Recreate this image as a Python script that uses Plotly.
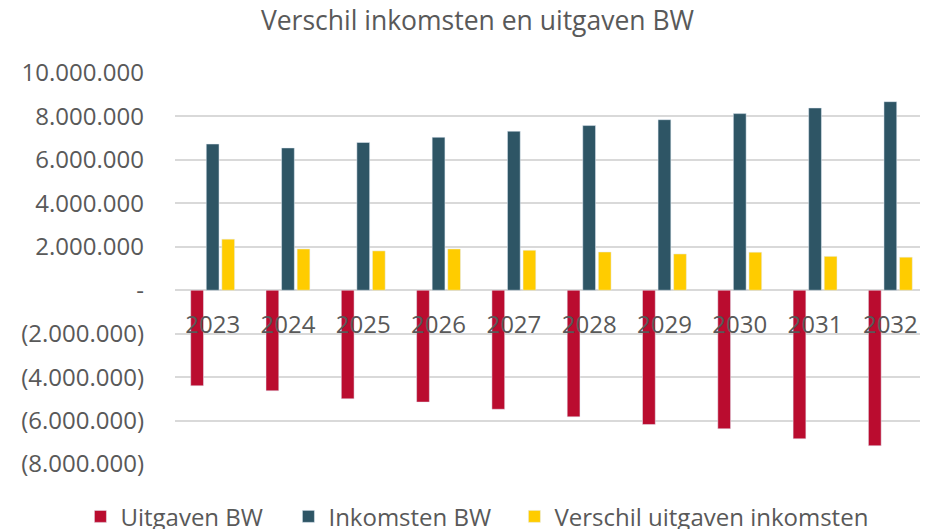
import plotly.graph_objects as go

years = ["2023", "2024", "2025", "2026", "2027", "2028", "2029", "2030", "2031", "2032"]
uitgaven = [-4400000, -4630000, -5000000, -5150000, -5480000, -5830000, -6180000, -6380000, -6840000, -7160000]
inkomsten = [6730000, 6550000, 6800000, 7040000, 7320000, 7580000, 7850000, 8130000, 8390000, 8680000]
verschil = [2350000, 1900000, 1810000, 1900000, 1840000, 1760000, 1670000, 1750000, 1560000, 1520000]

y_ticks = [-8000000, -6000000, -4000000, -2000000, 0, 2000000, 4000000, 6000000, 8000000, 10000000]
y_tick_labels = ["(8.000.000)", "(6.000.000)", "(4.000.000)", "(2.000.000)", "-",
                 "2.000.000", "4.000.000", "6.000.000", "8.000.000", "10.000.000"]

FONT = "Open Sans"
GREY = "#595959"

fig = go.Figure()
fig.add_trace(go.Bar(x=years, y=uitgaven, name="Uitgaven BW",
                     marker_color="#BA0C2F", legendwidth=163))
fig.add_trace(go.Bar(x=years, y=inkomsten, name="Inkomsten BW",
                     marker_color="#2E5565", legendwidth=181))
fig.add_trace(go.Bar(x=years, y=verschil, name="Verschil uitgaven inkomsten",
                     marker_color="#FFCC00"))

# page body has an 8px margin, so the figure is a bit smaller than the window
fig.update_layout(
    width=920,
    height=521,
    margin=dict(l=167, r=0, t=65, b=65, autoexpand=False),
    plot_bgcolor="white",
    paper_bgcolor="white",
    font=dict(family=FONT, color=GREY, size=22),
    title=dict(
        text="Verschil inkomsten en uitgaven BW",
        x=0.5103, xref="container", xanchor="center",
        y=0.975, yref="container", yanchor="middle",
        font=dict(size=26.5, color=GREY),
    ),
    barmode="group",
    bargap=0.38,
    bargroupgap=0.18,
    legend=dict(
        orientation="h",
        x=-0.1256, xanchor="left",
        y=-0.135, yanchor="middle",
        font=dict(size=24, color=GREY),
        traceorder="normal",
    ),
)

fig.update_yaxes(
    range=[-8000000, 10000000],
    tickvals=y_ticks,
    ticktext=y_tick_labels,
    showgrid=True,
    gridcolor="#D9D9D9",
    gridwidth=1.5,
    zeroline=True,
    zerolinecolor="#D9D9D9",
    zerolinewidth=1.5,
    ticklabelstandoff=30,
    tickfont=dict(size=24, color=GREY),
    automargin=False,
)

fig.update_xaxes(
    type="category",
    anchor="free",
    position=8 / 18,
    showline=False,
    ticks="outside",
    ticklen=13,
    tickangle=0,
    tickcolor="rgba(0,0,0,0)",
    tickfont=dict(size=24, color=GREY),
    automargin=False,
)

fig.write_html("out.html")
